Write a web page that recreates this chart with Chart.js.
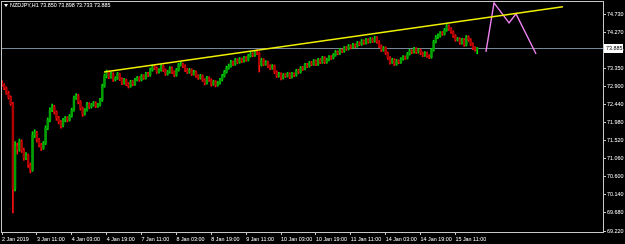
<!DOCTYPE html>
<html>
<head>
<meta charset="utf-8">
<script src="https://cdn.jsdelivr.net/npm/chart.js@4.4.1/dist/chart.umd.min.js"></script>
<style>
  html, body { margin: 0; padding: 0; background: #000; }
  canvas { display: block; }
</style>
</head>
<body>
<canvas id="chart" width="625" height="244"></canvas>
<script>
// NZDJPY H1, 2 Jan - 15 Jan 2019 (one entry per hourly bar)
const symbol = 'NZDJPY,H1';

const opens = [
    73.00, 72.94, 72.86, 72.74, 72.63, 72.46, 70.30, 71.38, 71.30, 71.50,
    71.28, 71.08, 71.15, 70.90, 70.78, 71.66, 71.72, 71.54, 71.41, 71.33,
    71.46, 71.84, 72.05, 72.30, 72.38, 72.25, 72.10, 72.00, 71.90, 72.05,
    72.10, 72.05, 72.15, 72.30, 72.61, 72.66, 72.51, 72.35, 72.20, 72.30,
    72.46, 72.38, 72.43, 72.48, 72.40, 72.43, 72.56, 72.91, 73.17, 73.27,
    73.14, 73.22, 73.07, 73.11, 73.22, 73.09, 72.99, 73.07, 72.96, 72.91,
    73.02, 72.96, 73.07, 73.12, 73.07, 73.17, 73.12, 73.22, 73.19, 73.32,
    73.40, 73.37, 73.27, 73.32, 73.42, 73.32, 73.22, 73.27, 73.37, 73.27,
    73.19, 73.32, 73.45, 73.47, 73.42, 73.32, 73.27, 73.32, 73.22, 73.27,
    73.17, 73.12, 73.17, 73.07, 72.99, 73.12, 73.07, 72.96, 73.02, 72.94,
    72.99, 73.07, 73.17, 73.27, 73.37, 73.42, 73.52, 73.47, 73.58, 73.52,
    73.60, 73.55, 73.63, 73.58, 73.68, 73.73, 73.70, 73.78, 73.75, 73.45,
    73.58, 73.47, 73.52, 73.42, 73.37, 73.42, 73.27, 73.17, 73.22, 73.12,
    73.19, 73.17, 73.22, 73.14, 73.22, 73.19, 73.30, 73.27, 73.37, 73.35,
    73.45, 73.42, 73.50, 73.47, 73.55, 73.47, 73.58, 73.52, 73.63, 73.52,
    73.58, 73.65, 73.63, 73.70, 73.78, 73.75, 73.83, 73.80, 73.88, 73.86,
    73.93, 73.90, 73.96, 73.93, 74.01, 73.98, 74.06, 74.01, 74.09, 74.04,
    74.11, 74.06, 74.14, 74.04, 73.93, 73.83, 73.88, 73.75, 73.63, 73.52,
    73.58, 73.47, 73.55, 73.52, 73.60, 73.65, 73.63, 73.73, 73.81, 73.78,
    73.86, 73.78, 73.83, 73.75, 73.70, 73.75, 73.68, 73.65, 73.83, 74.04,
    74.16, 74.19, 74.26, 74.24, 74.34, 74.44, 74.37, 74.29, 74.19, 74.09,
    74.11, 74.01, 74.09, 73.96, 74.16, 74.09, 73.98, 73.88, 73.850
];

const highs = [
    73.05, 72.97, 72.89, 72.78, 72.66, 72.50, 71.50, 71.46, 71.56, 71.54,
    71.33, 71.22, 71.18, 70.95, 71.75, 71.80, 71.76, 71.58, 71.45, 71.50,
    71.90, 72.10, 72.36, 72.45, 72.42, 72.28, 72.14, 72.03, 72.09, 72.14,
    72.13, 72.19, 72.35, 72.66, 72.72, 72.70, 72.54, 72.38, 72.34, 72.50,
    72.49, 72.47, 72.52, 72.51, 72.47, 72.60, 72.96, 73.22, 73.32, 73.30,
    73.26, 73.25, 73.15, 73.26, 73.24, 73.12, 73.11, 73.09, 73.00, 73.06,
    73.05, 73.11, 73.16, 73.15, 73.21, 73.20, 73.26, 73.26, 73.37, 73.45,
    73.44, 73.40, 73.36, 73.46, 73.45, 73.35, 73.31, 73.41, 73.40, 73.30,
    73.36, 73.49, 73.52, 73.50, 73.45, 73.36, 73.36, 73.35, 73.31, 73.30,
    73.20, 73.21, 73.20, 73.10, 73.16, 73.15, 73.10, 73.06, 73.05, 73.03,
    73.11, 73.21, 73.31, 73.42, 73.47, 73.57, 73.55, 73.62, 73.61, 73.64,
    73.63, 73.67, 73.66, 73.72, 73.77, 73.76, 73.82, 73.84, 73.78, 73.62,
    73.61, 73.56, 73.55, 73.45, 73.46, 73.45, 73.30, 73.26, 73.25, 73.23,
    73.23, 73.26, 73.25, 73.26, 73.25, 73.34, 73.34, 73.41, 73.41, 73.49,
    73.49, 73.54, 73.54, 73.59, 73.58, 73.62, 73.61, 73.67, 73.66, 73.62,
    73.69, 73.69, 73.74, 73.82, 73.81, 73.87, 73.86, 73.92, 73.92, 73.97,
    73.96, 74.00, 73.99, 74.05, 74.04, 74.10, 74.09, 74.13, 74.12, 74.15,
    74.14, 74.18, 74.17, 74.07, 73.96, 73.92, 73.91, 73.78, 73.66, 73.62,
    73.61, 73.59, 73.58, 73.64, 73.69, 73.68, 73.77, 73.85, 73.84, 73.90,
    73.89, 73.87, 73.86, 73.78, 73.79, 73.78, 73.71, 73.87, 74.08, 74.20,
    74.24, 74.30, 74.30, 74.38, 74.48, 74.47, 74.40, 74.32, 74.22, 74.15,
    74.14, 74.13, 74.12, 74.20, 74.19, 74.12, 74.01, 73.92, 73.898
];

const lows = [
    72.90, 72.82, 72.70, 72.58, 72.42, 69.68, 70.24, 71.18, 71.25, 71.22,
    71.02, 71.04, 70.84, 70.70, 70.74, 71.60, 71.48, 71.36, 71.27, 71.30,
    71.42, 71.80, 72.00, 72.26, 72.20, 72.04, 71.95, 71.84, 71.87, 72.00,
    72.00, 72.02, 72.12, 72.27, 72.57, 72.46, 72.30, 72.14, 72.17, 72.27,
    72.34, 72.35, 72.40, 72.36, 72.37, 72.40, 72.52, 72.88, 73.12, 73.10,
    73.11, 73.03, 73.04, 73.08, 73.05, 72.95, 72.96, 72.92, 72.86, 72.88,
    72.92, 72.93, 73.04, 73.03, 73.04, 73.08, 73.09, 73.15, 73.16, 73.29,
    73.33, 73.23, 73.24, 73.29, 73.28, 73.18, 73.19, 73.24, 73.23, 73.15,
    73.16, 73.29, 73.42, 73.38, 73.28, 73.23, 73.24, 73.18, 73.19, 73.13,
    73.08, 73.09, 73.03, 72.94, 72.96, 73.03, 72.91, 72.93, 72.89, 72.91,
    72.96, 73.04, 73.14, 73.24, 73.34, 73.39, 73.43, 73.44, 73.48, 73.49,
    73.51, 73.52, 73.54, 73.55, 73.65, 73.66, 73.67, 73.71, 73.27, 73.42,
    73.43, 73.44, 73.38, 73.33, 73.34, 73.23, 73.13, 73.14, 73.07, 73.09,
    73.13, 73.14, 73.10, 73.11, 73.15, 73.16, 73.23, 73.24, 73.31, 73.32,
    73.38, 73.39, 73.43, 73.44, 73.43, 73.44, 73.48, 73.49, 73.48, 73.49,
    73.55, 73.59, 73.60, 73.67, 73.71, 73.72, 73.76, 73.77, 73.82, 73.83,
    73.86, 73.87, 73.89, 73.90, 73.94, 73.95, 73.97, 73.98, 74.00, 74.01,
    74.02, 74.03, 74.00, 73.89, 73.79, 73.80, 73.71, 73.59, 73.47, 73.49,
    73.43, 73.44, 73.48, 73.49, 73.57, 73.59, 73.60, 73.70, 73.74, 73.75,
    73.74, 73.75, 73.71, 73.66, 73.67, 73.64, 73.61, 73.62, 73.80, 74.01,
    74.12, 74.16, 74.20, 74.21, 74.31, 74.33, 74.25, 74.15, 74.05, 74.06,
    73.97, 73.98, 73.92, 73.93, 74.05, 73.94, 73.84, 73.80, 73.733
];

const closes = [
    72.94, 72.86, 72.74, 72.63, 72.46, 70.30, 71.38, 71.30, 71.50, 71.28,
    71.08, 71.15, 70.90, 70.78, 71.66, 71.72, 71.54, 71.41, 71.33, 71.46,
    71.84, 72.05, 72.30, 72.38, 72.25, 72.10, 72.00, 71.90, 72.05, 72.10,
    72.05, 72.15, 72.30, 72.61, 72.66, 72.51, 72.35, 72.20, 72.30, 72.46,
    72.38, 72.43, 72.48, 72.40, 72.43, 72.56, 72.91, 73.17, 73.27, 73.14,
    73.22, 73.07, 73.11, 73.22, 73.09, 72.99, 73.07, 72.96, 72.91, 73.02,
    72.96, 73.07, 73.12, 73.07, 73.17, 73.12, 73.22, 73.19, 73.32, 73.40,
    73.37, 73.27, 73.32, 73.42, 73.32, 73.22, 73.27, 73.37, 73.27, 73.19,
    73.32, 73.45, 73.47, 73.42, 73.32, 73.27, 73.32, 73.22, 73.27, 73.17,
    73.12, 73.17, 73.07, 72.99, 73.12, 73.07, 72.96, 73.02, 72.94, 72.99,
    73.07, 73.17, 73.27, 73.37, 73.42, 73.52, 73.47, 73.58, 73.52, 73.60,
    73.55, 73.63, 73.58, 73.68, 73.73, 73.70, 73.78, 73.75, 73.45, 73.58,
    73.47, 73.52, 73.42, 73.37, 73.42, 73.27, 73.17, 73.22, 73.12, 73.19,
    73.17, 73.22, 73.14, 73.22, 73.19, 73.30, 73.27, 73.37, 73.35, 73.45,
    73.42, 73.50, 73.47, 73.55, 73.47, 73.58, 73.52, 73.63, 73.52, 73.58,
    73.65, 73.63, 73.70, 73.78, 73.75, 73.83, 73.80, 73.88, 73.86, 73.93,
    73.90, 73.96, 73.93, 74.01, 73.98, 74.06, 74.01, 74.09, 74.04, 74.11,
    74.06, 74.14, 74.04, 73.93, 73.83, 73.88, 73.75, 73.63, 73.52, 73.58,
    73.47, 73.55, 73.52, 73.60, 73.65, 73.63, 73.73, 73.81, 73.78, 73.86,
    73.78, 73.83, 73.75, 73.70, 73.75, 73.68, 73.65, 73.83, 74.04, 74.16,
    74.19, 74.26, 74.24, 74.34, 74.44, 74.37, 74.29, 74.19, 74.09, 74.11,
    74.01, 74.09, 73.96, 74.16, 74.09, 73.98, 73.88, 73.850, 73.885
];

// time labels, one every 16 bars
const tickLabels = ['2 Jan 2019', '3 Jan 11:00', '4 Jan 03:00', '4 Jan 19:00', '7 Jan 11:00',
    '8 Jan 03:00', '8 Jan 19:00', '9 Jan 11:00', '10 Jan 03:00', '10 Jan 19:00',
    '11 Jan 11:00', '14 Jan 03:00', '14 Jan 19:00', '15 Jan 11:00'];
const tickEvery = 16;
const priceTicks = [74.730, 74.270, 73.810, 73.350, 72.900, 72.440, 71.980,
    71.520, 71.060, 70.600, 70.140, 69.680, 69.220];

// drawn objects (bar index, price)
const trendLine = [{ x: 46.8, y: 73.27 }, { x: 257.3, y: 74.93 }];
const projection = [
    { x: 222.0, y: 73.78 }, { x: 225.7, y: 75.03 }, { x: 232.6, y: 74.52 },
    { x: 235.8, y: 74.75 }, { x: 245.0, y: 73.73 }
];

const bullWick = '#00e000', bullBody = '#00a000';
const bearWick = '#ff1010', bearBody = '#b00000';
const textColor = '#ffffff';
const frameColor = '#c8c8c8';
const fontSmall = { family: 'Liberation Sans', size: 5.4 };

const up = closes.map((c, i) => c >= opens[i]);
const lastClose = closes[closes.length - 1];

// фон, рамка, линия цены, заголовок
const mtPlugin = {
    id: 'mt',
    beforeDraw(chart) {
        const ctx = chart.ctx;
        ctx.save();
        ctx.fillStyle = '#000';
        ctx.fillRect(0, 0, chart.width, chart.height);
        ctx.restore();
    },
    beforeDatasetsDraw(chart) {
        const { ctx, chartArea, scales } = chart;
        const y = Math.round(scales.y.getPixelForValue(lastClose)) + 0.5;
        ctx.save();
        ctx.strokeStyle = '#778899';
        ctx.lineWidth = 1;
        ctx.beginPath();
        ctx.moveTo(chartArea.left, y);
        ctx.lineTo(chartArea.right, y);
        ctx.stroke();
        ctx.restore();
    },
    afterDraw(chart) {
        const { ctx, chartArea, scales } = chart;
        ctx.save();
        ctx.strokeStyle = frameColor;
        ctx.lineWidth = 1;
        ctx.strokeRect(chartArea.left - 0.5, chartArea.top - 0.5,
            chartArea.right - chartArea.left + 1, chartArea.bottom - chartArea.top + 1);

        // price box on the right scale
        const y = Math.round(scales.y.getPixelForValue(lastClose));
        ctx.fillStyle = '#ffffff';
        ctx.fillRect(chartArea.right + 1, y - 4, 19, 9);
        ctx.fillStyle = '#000000';
        ctx.font = '5.4px "Liberation Sans"';
        ctx.textBaseline = 'middle';
        ctx.textAlign = 'left';
        ctx.fillText(lastClose.toFixed(3), chartArea.right + 3, y + 0.5);

        // title
        const n = closes.length - 1;
        ctx.fillStyle = textColor;
        ctx.beginPath();
        ctx.moveTo(4, 4);
        ctx.lineTo(8, 4);
        ctx.lineTo(6, 7);
        ctx.closePath();
        ctx.fill();
        ctx.fillText(symbol + ' ' + [opens[n], highs[n], lows[n], closes[n]]
            .map(v => v.toFixed(3)).join(' '), 10, 6);
        ctx.restore();
    }
};

new Chart(document.getElementById('chart'), {
    type: 'bar',
    data: {
        datasets: [
            {
                label: 'wick',
                data: opens.map((o, i) => ({ x: i, y: [lows[i], highs[i]] })),
                backgroundColor: up.map(u => u ? bullWick : bearWick),
                barThickness: 1,
                grouped: false,
                order: 2
            },
            {
                label: 'body',
                data: opens.map((o, i) => ({ x: i, y: [o, closes[i]] })),
                backgroundColor: up.map(u => u ? bullBody : bearBody),
                barThickness: 1.8,
                minBarLength: 1,
                grouped: false,
                order: 1
            },
            {
                type: 'line',
                label: 'trend',
                data: trendLine,
                borderColor: '#f0f000',
                borderWidth: 1.6,
                pointRadius: 0,
                order: 0
            },
            {
                type: 'line',
                label: 'projection',
                data: projection,
                borderColor: '#ee82ee',
                borderWidth: 1.4,
                pointRadius: 0,
                order: 0
            }
        ]
    },
    options: {
        responsive: false,
        animation: false,
        devicePixelRatio: 1,
        layout: { padding: { left: 2, top: 2, right: 0, bottom: 0 } },
        plugins: {
            legend: { display: false },
            tooltip: { enabled: false }
        },
        scales: {
            x: {
                type: 'linear',
                min: 0,
                max: 275.7,
                offset: false,
                grid: { display: true, drawOnChartArea: false, offset: false, tickLength: 3, color: frameColor },
                border: { display: true, color: frameColor },
                ticks: {
                    autoSkip: false,
                    maxRotation: 0,
                    minRotation: 0,
                    align: 'start',
                    padding: 1,
                    color: textColor,
                    font: fontSmall,
                    callback: v => tickLabels[v / tickEvery] ?? ''
                },
                afterBuildTicks: s => { s.ticks = tickLabels.map((t, k) => ({ value: k * tickEvery })); },
                afterFit: s => {
                    s.height = 12;
                    s.paddingLeft = 0; s.paddingRight = 0;
                }
            },
            y: {
                position: 'right',
                min: 69.195,
                max: 75.053,
                grid: { display: true, drawOnChartArea: false, tickLength: 3, color: frameColor },
                border: { display: true, color: frameColor },
                ticks: {
                    padding: 1,
                    color: textColor,
                    font: fontSmall,
                    callback: v => v.toFixed(3)
                },
                afterBuildTicks: s => { s.ticks = priceTicks.map(v => ({ value: v })); },
                afterFit: s => {
                    s.width = 22;
                    s.paddingTop = 0; s.paddingBottom = 0;
                }
            }
        }
    },
    plugins: [mtPlugin]
});
</script>
</body>
</html>
